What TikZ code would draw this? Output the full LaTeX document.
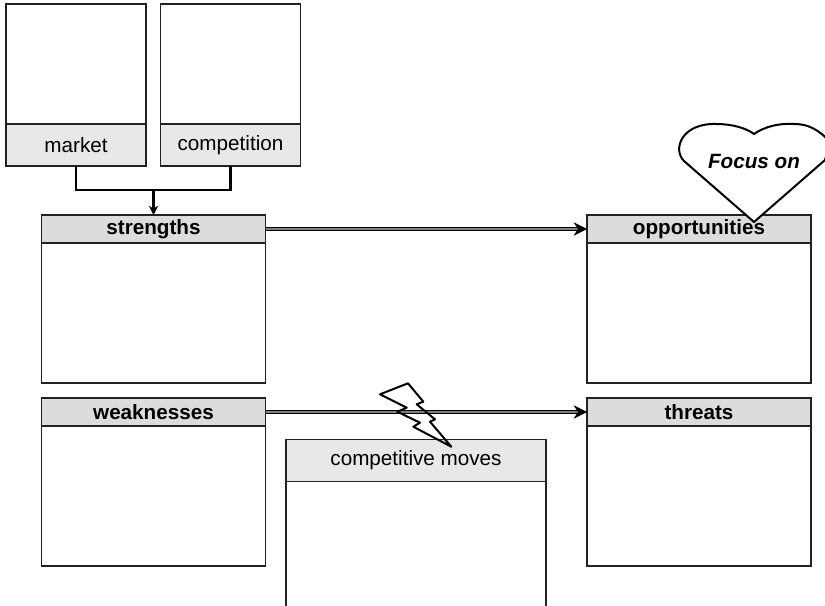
\documentclass[tikz,border=0pt]{standalone}
\usepackage{fontspec}
\setmainfont{Liberation Sans}
\usepackage{tikz}
\usetikzlibrary{
    calc,
    arrows.meta
}
\definecolor{headlight}{HTML}{E8E8E8}
\definecolor{headdark}{HTML}{DCDCDC}
\definecolor{edgegray}{HTML}{222222}
\tikzset{
    every node/.style={inner sep=0pt, outer sep=0pt, text=black, font=\fontsize{15.5}{18}\selectfont},
    smallbody/.style={draw=edgegray, line width=0.8pt, fill=white, minimum width=105pt, minimum height=90pt},
    smallhead/.style={draw=edgegray, line width=0.8pt, fill=headlight, minimum width=105pt, minimum height=31.5pt},
    bigbody/.style={draw=edgegray, line width=0.8pt, fill=white, minimum width=168pt, minimum height=105pt},
    bighead/.style={draw=edgegray, line width=0.8pt, fill=headdark, minimum width=168pt, minimum height=21pt},
    headtext/.style={font=\fontsize{15.5}{18}\selectfont\bfseries},
    movehead/.style={draw=edgegray, line width=0.8pt, fill=headlight, minimum width=195pt, minimum height=31pt},
    mergeline/.style={line width=1.9pt},
    bararrow/.style={draw=black, line width=0.8pt, double=gray, double distance=1.3pt, -{Stealth[length=10pt,width=10pt]}},
    outline/.style={line width=1.5pt, line join=round}
}
\begin{document}
\begin{tikzpicture}[x=0.75pt, y=-0.75pt]
        \useasboundingbox (0,0) rectangle (825,606);
        \clip (0,0) rectangle (825,606);

        % top pair
        \draw (76,64) node[smallbody](marketbody){};
        \draw (76,145) node[smallhead](markethead){market};
        \draw (230.5,64) node[smallbody](compbody){};
        \draw (230.5,145) node[smallhead](comphead){competition};

        % swot boxes
        \draw (153.5,313) node[bigbody](strengthsbody){};
        \draw (153.5,229) node[bighead, headtext](strengths){strengths};
        \draw (699,313) node[bigbody](oppbody){};
        \draw (699,229) node[bighead](opportunities){};
        \draw (153.5,496) node[bigbody](weakbody){};
        \draw (153.5,412) node[bighead, headtext](weaknesses){weaknesses};
        \draw (699,496) node[bigbody](threatbody){};
        \draw (699,412) node[bighead, headtext](threats){threats};

        % open box below
        \draw (416,460.5) node[movehead](moves){competitive moves};
        \coordinate (movesleft) at (286,606);
        \coordinate (movesright) at (546,606);
        \draw[line width=0.8pt, draw=edgegray] (moves.south west) -- (movesleft);
        \draw[line width=0.8pt, draw=edgegray] (moves.south east) -- (movesright);

        % merge into strengths
        \coordinate (merge) at (153.5,190);
        \draw[mergeline] (markethead.south) |- (merge) -| (comphead.south);
        \draw[mergeline, -{Stealth[length=7pt,width=7pt]}] (merge) -- (strengths.north);

        \draw[bararrow] (strengths.east) -- (opportunities.west);
        \draw[bararrow] (weaknesses.east) -- (threats.west);

        % heart
        \draw[outline, fill=white] (754,222) -- (684,161)
            .. controls (672,149) and (682,123) .. (716,124)
            .. controls (732,124) and (746,128) .. (754,134)
            .. controls (764,127) and (778,123) .. (794,124)
            .. controls (808,124) and (818,129) .. (830,142)
            -- (825,160) -- cycle;
        \draw (754,161) node[font=\fontsize{15.5}{18}\selectfont\bfseries\itshape](focus){Focus on};
        \draw (676.5,229) node[headtext, anchor=center](opplabel) at (699,229.5){opportunities};

        % bolt
        \draw[outline] (380,394.3) -- (408,383.3) -- (423.3,401.7) -- (416.7,404.3) -- (435,419.3)
            -- (430,421.7) -- (451.3,446.7) -- (413.3,426.7) -- (420,422.7) -- (397.3,411.7)
            -- (406.7,407.7) -- cycle;
    \end{tikzpicture}
\end{document}
